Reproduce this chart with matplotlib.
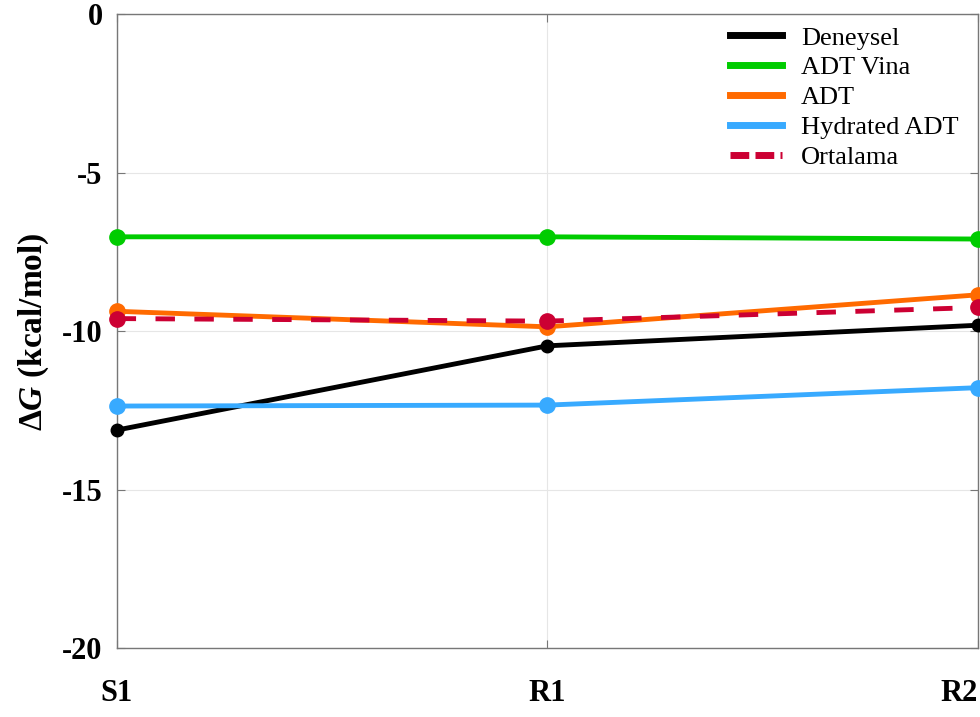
import matplotlib
matplotlib.use('Agg')
import matplotlib.pyplot as plt

plt.rcParams['font.family'] = ['Liberation Serif', 'DejaVu Serif']
plt.rcParams['mathtext.fontset'] = 'custom'
plt.rcParams['mathtext.rm'] = 'Liberation Serif:bold'
plt.rcParams['mathtext.it'] = 'Liberation Serif:bold:italic'
plt.rcParams['mathtext.bf'] = 'Liberation Serif:bold'

systems = ['S1', 'R1', 'R2']
deneysel = [-13.12, -10.46, -9.81]
adt_vina = [-7.02, -7.02, -7.09]
adt = [-9.37, -9.86, -8.85]
hydrated_adt = [-12.36, -12.33, -11.78]
ortalama = [-9.60, -9.68, -9.25]

series = [
    ('Deneysel', deneysel, '#000000', '-', 9),
    ('ADT Vina', adt_vina, '#00cc00', '-', 11),
    ('ADT', adt, '#ff6a00', '-', 11),
    ('Hydrated ADT', hydrated_adt, '#38aaff', '-', 11),
    ('Ortalama', ortalama, '#cc0033', (0, (4, 4)), 11),
]

fig = plt.figure(figsize=(9.8, 7.17), dpi=100)
ax = fig.add_axes([0.119, 0.096, 0.879, 0.884])

x = list(range(len(systems)))
for label, values, color, ls, ms in series:
    ax.plot(x, values, color=color, linestyle=ls, linewidth=3.5,
            marker='o', markersize=ms, label=label, zorder=3, clip_on=False)

ax.set_xlim(0, 2)
ax.set_ylim(-20, 0)
ax.set_xticks(x)
ax.set_xticklabels(systems)
ax.set_yticks([-20, -15, -10, -5, 0])
ax.set_yticklabels(['-20', '-15', '-10', '-5', '0'])

ax.grid(True, color='#e6e6e6', linewidth=0.8)
ax.set_axisbelow(True)
for spine in ax.spines.values():
    spine.set_color('#777777')
    spine.set_linewidth(1.0)

ax.tick_params(axis='both', direction='in', length=6, width=0.8, color='#777777',
               top=True, right=True, labelsize=22)
ax.tick_params(axis='x', pad=22)
ax.tick_params(axis='y', pad=10)
for lbl in ax.get_xticklabels() + ax.get_yticklabels():
    lbl.set_fontweight('bold')
# last category label sits flush with the right edge
ax.get_xticklabels()[-1].set_horizontalalignment('right')
ax.get_xticklabels()[-1].set_x(2.0)

ax.set_ylabel(r'$\Delta\mathit{G}$ (kcal/mol)', fontsize=24, fontweight='bold', labelpad=8)

leg = ax.legend(loc='upper right', bbox_to_anchor=(0.991, 1.0), fontsize=19,
                frameon=False, handlelength=2.0, labelspacing=0.24,
                borderaxespad=0.2, borderpad=0.25, handletextpad=0.7)
for h in leg.get_lines():
    h.set_marker('')
    h.set_linewidth(5)
leg.get_lines()[-1].set_linestyle((0, (2.7, 0.9)))

fig.savefig('out.png', dpi=100)
